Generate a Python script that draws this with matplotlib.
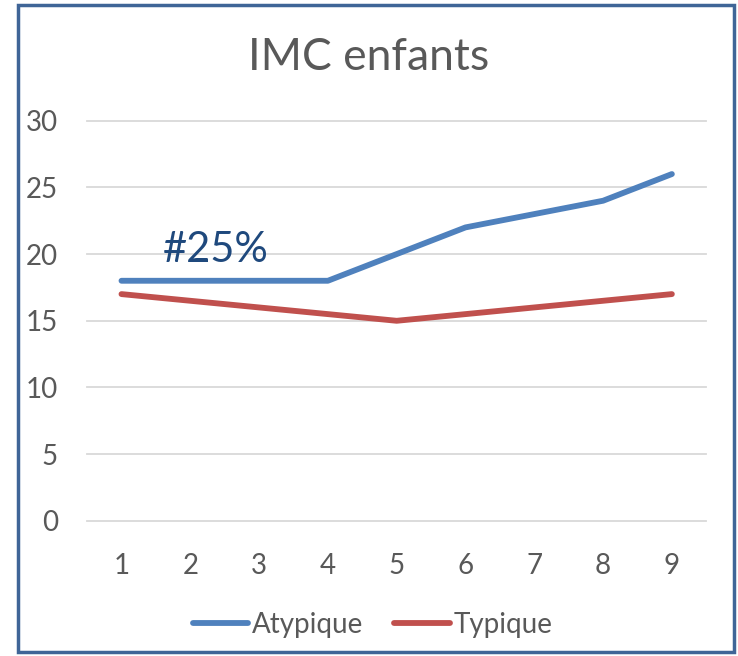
import numpy as np
import matplotlib.pyplot as plt
from matplotlib.patches import Rectangle

plt.rcParams['font.family'] = ['Lato', 'DejaVu Sans']

x = [1, 2, 3, 4, 5, 6, 7, 8, 9]
atypique = [18, 18, 18, 18, 20, 22, 23, 24, 26]
typique = [17, 16.5, 16, 15.5, 15, 15.5, 16, 16.5, 17]
grey = "#595959"

fig = plt.figure(figsize=(7.38, 6.56), dpi=100)
ax = fig.add_axes([0.118, 0.206, 0.839, 0.61])

ax.plot(x, atypique, color="#4F81BD", lw=4.2, solid_capstyle="round", label="Atypique")
ax.plot(x, typique, color="#C0504D", lw=4.2, solid_capstyle="round", label="Typique")

ax.set_xlim(0.5, 9.5)
ax.set_ylim(0, 30)
ax.set_yticks(np.arange(0, 31, 5))
ax.set_xticks(x)
ax.grid(axis="y", color="#D9D9D9", lw=1.3)
for gl in ax.get_ygridlines():
    gl.set_clip_on(False)
ax.set_axisbelow(True)
for s in ax.spines.values():
    s.set_visible(False)
ax.tick_params(length=0, labelsize=20, labelcolor=grey)
ax.tick_params(axis="x", pad=23)
ax.tick_params(axis="y", pad=21)

ax.text(1.6, 19.4, "#25%", color="#1F497D", fontsize=30, va="baseline", ha="left")

fig.text(0.5, 0.913, "IMC enfants", ha="center", va="center", fontsize=32, color=grey)

fig.legend(loc="center", bbox_to_anchor=(0.505, 0.047), ncol=2, frameon=False,
           fontsize=20, labelcolor=grey, handlelength=2.0, handletextpad=0.15,
           columnspacing=1.1)

fig.patches.append(Rectangle((0.025, 0.006), 0.969, 0.986, transform=fig.transFigure,
                             fill=False, edgecolor="#3F6597", lw=2.5))

fig.savefig("out.png", dpi=100)
